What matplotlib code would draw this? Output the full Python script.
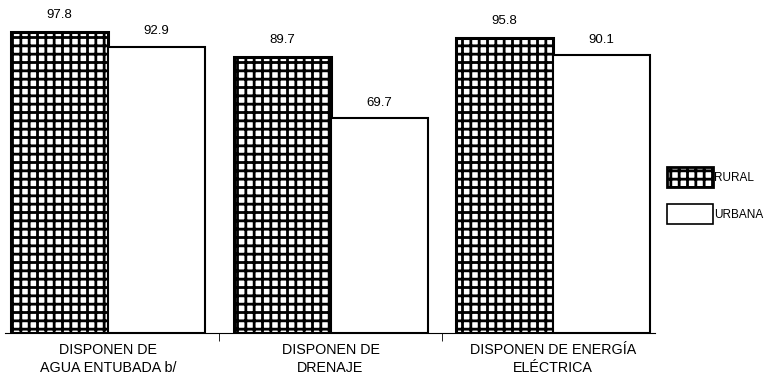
import numpy as np
import matplotlib.pyplot as plt
from matplotlib.patches import Rectangle

categories = ['DISPONEN DE\nAGUA ENTUBADA b/', 'DISPONEN DE\nDRENAJE', 'DISPONEN DE ENERGÍA\nELÉCTRICA']
rural = [97.8, 89.7, 95.8]
urbana = [92.9, 69.7, 90.1]
series_names = ['RURAL', 'URBANA']

plt.rcParams['font.family'] = ['Liberation Sans', 'DejaVu Sans']
plt.rcParams['hatch.linewidth'] = 2.0
plt.rcParams['hatch.color'] = 'black'

W, H = 765, 379
fig = plt.figure(figsize=(W / 100, H / 100), dpi=100)
ax = fig.add_axes([5 / W, (H - 333) / H, 650 / W, 308 / H])

x = np.arange(len(categories))
w = 0.436

ax.bar(x - w / 2, rural, w, facecolor='white', edgecolor='black', linewidth=2.2, hatch='++')
ax.bar(x + w / 2, urbana, w, facecolor='white', edgecolor='black', linewidth=1.5)

for xi, v in zip(x, rural):
    ax.text(xi - w / 2, v + 5.5, f'{v:.1f}', ha='center', va='center', fontsize=9.5, clip_on=False)
for xi, v in zip(x, urbana):
    ax.text(xi + w / 2, v + 5.0, f'{v:.1f}', ha='center', va='center', fontsize=9.5, clip_on=False)

ax.set_xlim(-0.463, 2.458)
ax.set_ylim(0, 100)
for s in ['top', 'right', 'left']:
    ax.spines[s].set_visible(False)
ax.spines['bottom'].set_linewidth(0.8)
ax.set_yticks([])
ax.set_xticks(x)
ax.set_xticklabels(categories, fontsize=10.3, linespacing=1.38)
ax.tick_params(axis='x', length=0, pad=7)
ax.set_xticks([0.5, 1.5], minor=True)
ax.tick_params(axis='x', which='minor', length=6, width=0.6)

# legend
ax2 = fig.add_axes([0, 0, 1, 1], facecolor='none')
ax2.set_xlim(0, W)
ax2.set_ylim(H, 0)
ax2.axis('off')
ax2.add_patch(Rectangle((667, 167), 46, 20, facecolor='white', edgecolor='black', linewidth=2.0, hatch='++'))
ax2.add_patch(Rectangle((667, 204), 46, 20, facecolor='white', edgecolor='black', linewidth=1.2))
ax2.text(714, 178, series_names[0], va='center', ha='left', fontsize=8.5)
ax2.text(714, 215, series_names[1], va='center', ha='left', fontsize=8.5)

fig.savefig('out.png', dpi=100)
